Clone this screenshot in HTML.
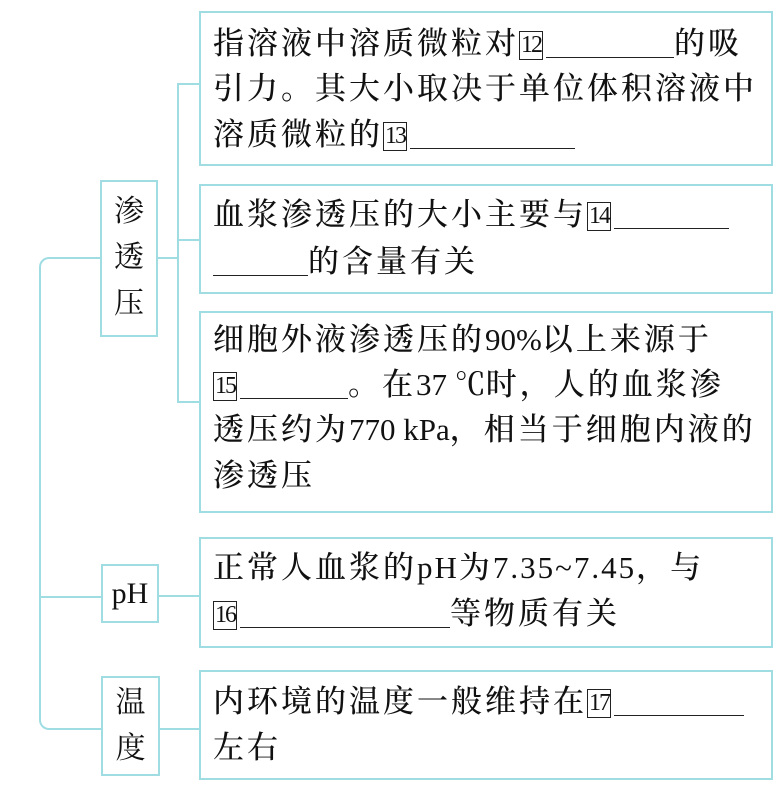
<!DOCTYPE html>
<html><head><meta charset="utf-8"><style>
body{margin:0;width:780px;height:791px;background:#fff;position:relative;overflow:hidden;font-family:"Liberation Serif","Noto Serif CJK SC",serif;color:#111}
.b{position:absolute;border:2px solid #9fdde3;box-sizing:border-box}
.l{position:absolute;background:#9fdde3}
.t{position:absolute;left:213px;font-size:31px;letter-spacing:3px;white-space:nowrap;line-height:36px;font-weight:500}
.e{letter-spacing:0}
.n{display:inline-block;border:1.5px solid #222;font-size:24px;line-height:26px;height:27px;padding:0 1px;letter-spacing:-2px;vertical-align:2px;margin-right:3px}
.u{display:inline-block;border-bottom:1.5px solid #222;height:30px;vertical-align:-4px}
.k{position:absolute;font-size:30px;text-align:center;line-height:46px}
</style></head><body>
<div class="b" style="left:199px;top:11px;width:574px;height:155px"></div>
<div class="b" style="left:199px;top:184px;width:574px;height:110px"></div>
<div class="b" style="left:199px;top:311px;width:574px;height:202px"></div>
<div class="b" style="left:199px;top:537px;width:574px;height:111px"></div>
<div class="b" style="left:199px;top:670px;width:574px;height:110px"></div>
<div class="b" style="left:100px;top:180px;width:58px;height:157px"></div>
<div class="b" style="left:101px;top:564px;width:58px;height:59px"></div>
<div class="b" style="left:101px;top:676px;width:59px;height:100px"></div>
<div class="l" style="left:177px;top:83px;width:2px;height:320px"></div>
<div class="l" style="left:177px;top:83px;width:23px;height:2px"></div>
<div class="l" style="left:177px;top:239px;width:23px;height:2px"></div>
<div class="l" style="left:177px;top:401px;width:23px;height:2px"></div>
<div class="l" style="left:157px;top:257px;width:21px;height:2px"></div>
<div style="position:absolute;left:39px;top:257px;width:62px;height:473px;border:2px solid #9fdde3;border-right:none;border-radius:10px 0 0 10px;box-sizing:border-box"></div>
<div class="l" style="left:40px;top:596px;width:62px;height:2px"></div>
<div class="l" style="left:158px;top:595px;width:42px;height:2px"></div>
<div class="l" style="left:159px;top:728px;width:41px;height:2px"></div>
<div class="k" style="left:100px;top:189px;width:58px">渗<br>透<br>压</div>
<div class="k" style="left:101px;top:571px;width:58px">pH</div>
<div class="k" style="left:101px;top:680px;width:59px">温<br>度</div>
<div class="t" style="top:26px">指溶液中溶质微粒对<span class="n">12</span><span class="u" style="width:128px"></span>的吸</div>
<div class="t" style="top:71px">引力。其大小取决于单位体积溶液中</div>
<div class="t" style="top:117px">溶质微粒的<span class="n">13</span><span class="u" style="width:165px"></span></div>
<div class="t" style="top:197px">血浆渗透压的大小主要与<span class="n">14</span><span class="u" style="width:115px"></span></div>
<div class="t" style="top:244px"><span class="u" style="width:95px"></span>的含量有关</div>
<div class="t" style="top:322px">细胞外液渗透压的<span class="e">90%</span>以上来源于</div>
<div class="t" style="top:367px"><span class="n">15</span><span class="u" style="width:108px"></span>。在<span class="e">37 ℃</span>时，人的血浆渗</div>
<div class="t" style="top:412px">透压约为<span class="e">770 kPa</span>，相当于细胞内液的</div>
<div class="t" style="top:458px">渗透压</div>
<div class="t" style="top:550px">正常人血浆的<span class="e" style="letter-spacing:2px">pH</span>为<span class="e" style="letter-spacing:2px">7.35~7.45</span>，与</div>
<div class="t" style="top:596px"><span class="n">16</span><span class="u" style="width:210px"></span>等物质有关</div>
<div class="t" style="top:684px">内环境的温度一般维持在<span class="n">17</span><span class="u" style="width:130px"></span></div>
<div class="t" style="top:730px">左右</div>
</body></html>
